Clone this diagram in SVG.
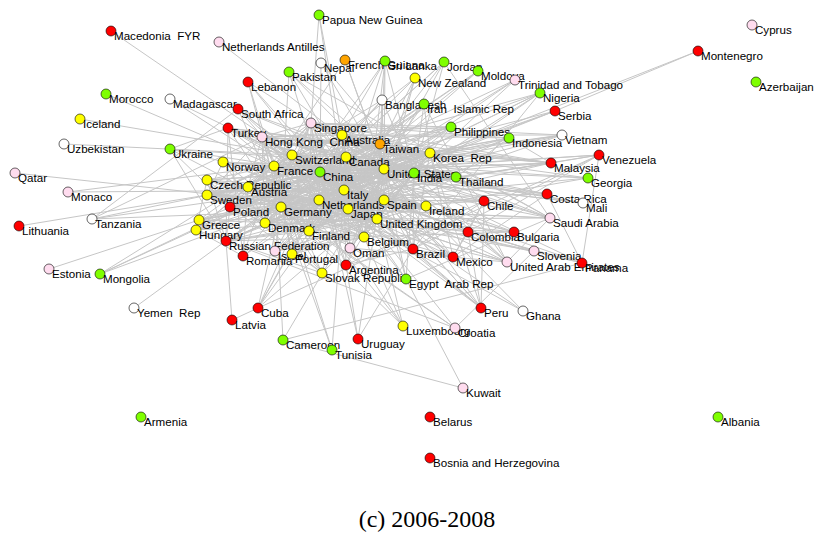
<svg xmlns="http://www.w3.org/2000/svg" width="814" height="534" viewBox="0 0 814 534" xml:space="preserve">
<style>
#edges path{stroke:#c6c6c6;stroke-width:1;fill:none}
circle{stroke:#000;stroke-width:0.6}
.r{fill:#ff0000}.g{fill:#7fff00}.y{fill:#ffff00}.p{fill:#ffdcef}.o{fill:#ffa500}.w{fill:#ffffff}
text{font-family:"Liberation Sans",Arial,sans-serif;font-size:11.6px;fill:#000;white-space:pre}
text.cap{font-family:"Liberation Serif","DejaVu Serif",serif;font-size:24px}
</style>
<rect width="814" height="534" fill="#fff"/>
<g id="edges">
<path d="M384 169L320 172"/><path d="M384 169L348 209"/><path d="M384 169L281 207"/><path d="M384 169L377 219"/><path d="M384 169L274 166"/><path d="M384 169L344 190"/><path d="M384 169L319 200"/><path d="M384 169L384 200"/><path d="M384 169L346 157"/><path d="M384 169L342 135"/><path d="M384 169L430 153"/><path d="M384 169L414 173"/><path d="M384 169L292 155"/><path d="M384 169L364 237"/><path d="M384 169L207 195"/><path d="M384 169L248 187"/><path d="M384 169L265 223"/><path d="M384 169L309 231"/><path d="M384 169L311 123"/><path d="M384 169L262 137"/><path d="M384 169L380 144"/>
<path d="M320 172L348 209"/><path d="M320 172L281 207"/><path d="M320 172L377 219"/><path d="M320 172L274 166"/><path d="M320 172L344 190"/><path d="M320 172L319 200"/><path d="M320 172L384 200"/><path d="M320 172L346 157"/><path d="M320 172L342 135"/><path d="M320 172L430 153"/><path d="M320 172L414 173"/><path d="M320 172L292 155"/><path d="M320 172L364 237"/><path d="M320 172L207 195"/><path d="M320 172L248 187"/><path d="M320 172L265 223"/><path d="M320 172L309 231"/><path d="M320 172L311 123"/><path d="M320 172L262 137"/><path d="M320 172L380 144"/>
<path d="M348 209L281 207"/><path d="M348 209L377 219"/><path d="M348 209L274 166"/><path d="M348 209L344 190"/><path d="M348 209L319 200"/><path d="M348 209L384 200"/><path d="M348 209L346 157"/><path d="M348 209L342 135"/><path d="M348 209L430 153"/><path d="M348 209L414 173"/><path d="M348 209L292 155"/><path d="M348 209L364 237"/><path d="M348 209L207 195"/><path d="M348 209L248 187"/><path d="M348 209L265 223"/><path d="M348 209L309 231"/><path d="M348 209L311 123"/><path d="M348 209L262 137"/><path d="M348 209L380 144"/>
<path d="M281 207L377 219"/><path d="M281 207L274 166"/><path d="M281 207L344 190"/><path d="M281 207L319 200"/><path d="M281 207L384 200"/><path d="M281 207L346 157"/><path d="M281 207L342 135"/><path d="M281 207L430 153"/><path d="M281 207L414 173"/><path d="M281 207L292 155"/><path d="M281 207L364 237"/><path d="M281 207L207 195"/><path d="M281 207L248 187"/><path d="M281 207L265 223"/><path d="M281 207L309 231"/><path d="M281 207L311 123"/><path d="M281 207L262 137"/><path d="M281 207L380 144"/>
<path d="M377 219L274 166"/><path d="M377 219L344 190"/><path d="M377 219L319 200"/><path d="M377 219L384 200"/><path d="M377 219L346 157"/><path d="M377 219L342 135"/><path d="M377 219L430 153"/><path d="M377 219L414 173"/><path d="M377 219L292 155"/><path d="M377 219L364 237"/><path d="M377 219L207 195"/><path d="M377 219L248 187"/><path d="M377 219L265 223"/><path d="M377 219L309 231"/><path d="M377 219L311 123"/><path d="M377 219L262 137"/><path d="M377 219L380 144"/>
<path d="M274 166L344 190"/><path d="M274 166L319 200"/><path d="M274 166L384 200"/><path d="M274 166L346 157"/><path d="M274 166L342 135"/><path d="M274 166L430 153"/><path d="M274 166L414 173"/><path d="M274 166L292 155"/><path d="M274 166L364 237"/><path d="M274 166L207 195"/><path d="M274 166L248 187"/><path d="M274 166L265 223"/><path d="M274 166L309 231"/><path d="M274 166L311 123"/><path d="M274 166L262 137"/><path d="M274 166L380 144"/>
<path d="M344 190L319 200"/><path d="M344 190L384 200"/><path d="M344 190L346 157"/><path d="M344 190L342 135"/><path d="M344 190L430 153"/><path d="M344 190L414 173"/><path d="M344 190L292 155"/><path d="M344 190L364 237"/><path d="M344 190L207 195"/><path d="M344 190L248 187"/><path d="M344 190L265 223"/><path d="M344 190L309 231"/><path d="M344 190L311 123"/><path d="M344 190L262 137"/><path d="M344 190L380 144"/>
<path d="M319 200L384 200"/><path d="M319 200L346 157"/><path d="M319 200L342 135"/><path d="M319 200L430 153"/><path d="M319 200L414 173"/><path d="M319 200L292 155"/><path d="M319 200L364 237"/><path d="M319 200L207 195"/><path d="M319 200L248 187"/><path d="M319 200L265 223"/><path d="M319 200L309 231"/><path d="M319 200L311 123"/><path d="M319 200L262 137"/><path d="M319 200L380 144"/>
<path d="M384 200L346 157"/><path d="M384 200L342 135"/><path d="M384 200L430 153"/><path d="M384 200L414 173"/><path d="M384 200L292 155"/><path d="M384 200L364 237"/><path d="M384 200L207 195"/><path d="M384 200L248 187"/><path d="M384 200L265 223"/><path d="M384 200L309 231"/><path d="M384 200L311 123"/><path d="M384 200L262 137"/><path d="M384 200L380 144"/>
<path d="M346 157L342 135"/><path d="M346 157L430 153"/><path d="M346 157L414 173"/><path d="M346 157L292 155"/><path d="M346 157L364 237"/><path d="M346 157L207 195"/><path d="M346 157L248 187"/><path d="M346 157L265 223"/><path d="M346 157L309 231"/><path d="M346 157L311 123"/><path d="M346 157L262 137"/><path d="M346 157L380 144"/>
<path d="M342 135L430 153"/><path d="M342 135L414 173"/><path d="M342 135L292 155"/><path d="M342 135L364 237"/><path d="M342 135L207 195"/><path d="M342 135L248 187"/><path d="M342 135L265 223"/><path d="M342 135L309 231"/><path d="M342 135L311 123"/><path d="M342 135L262 137"/><path d="M342 135L380 144"/>
<path d="M430 153L414 173"/><path d="M430 153L292 155"/><path d="M430 153L364 237"/><path d="M430 153L207 195"/><path d="M430 153L248 187"/><path d="M430 153L265 223"/><path d="M430 153L309 231"/><path d="M430 153L311 123"/><path d="M430 153L262 137"/><path d="M430 153L380 144"/>
<path d="M414 173L292 155"/><path d="M414 173L364 237"/><path d="M414 173L207 195"/><path d="M414 173L248 187"/><path d="M414 173L265 223"/><path d="M414 173L309 231"/><path d="M414 173L311 123"/><path d="M414 173L262 137"/><path d="M414 173L380 144"/>
<path d="M292 155L364 237"/><path d="M292 155L207 195"/><path d="M292 155L248 187"/><path d="M292 155L265 223"/><path d="M292 155L309 231"/><path d="M292 155L311 123"/><path d="M292 155L262 137"/><path d="M292 155L380 144"/>
<path d="M364 237L207 195"/><path d="M364 237L248 187"/><path d="M364 237L265 223"/><path d="M364 237L309 231"/><path d="M364 237L311 123"/><path d="M364 237L262 137"/><path d="M364 237L380 144"/>
<path d="M207 195L248 187"/><path d="M207 195L265 223"/><path d="M207 195L309 231"/><path d="M207 195L311 123"/><path d="M207 195L262 137"/><path d="M207 195L380 144"/>
<path d="M248 187L265 223"/><path d="M248 187L309 231"/><path d="M248 187L311 123"/><path d="M248 187L262 137"/><path d="M248 187L380 144"/>
<path d="M265 223L309 231"/><path d="M265 223L311 123"/><path d="M265 223L262 137"/><path d="M265 223L380 144"/>
<path d="M309 231L311 123"/><path d="M309 231L262 137"/><path d="M309 231L380 144"/>
<path d="M311 123L262 137"/><path d="M311 123L380 144"/><path d="M262 137L380 144"/>
<path d="M207 180L384 169"/><path d="M207 180L320 172"/><path d="M207 180L281 207"/><path d="M207 180L377 219"/><path d="M207 180L274 166"/><path d="M207 180L344 190"/><path d="M207 180L319 200"/><path d="M207 180L230 207"/><path d="M207 180L196 230"/><path d="M207 180L322 273"/><path d="M207 180L226 241"/><path d="M207 180L248 187"/>
<path d="M230 207L384 169"/><path d="M230 207L320 172"/><path d="M230 207L281 207"/><path d="M230 207L377 219"/><path d="M230 207L274 166"/><path d="M230 207L344 190"/><path d="M230 207L319 200"/><path d="M230 207L226 241"/><path d="M230 207L207 195"/><path d="M230 207L265 223"/><path d="M230 207L430 153"/>
<path d="M426 206L384 169"/><path d="M426 206L377 219"/><path d="M426 206L281 207"/><path d="M426 206L274 166"/><path d="M426 206L348 209"/><path d="M426 206L319 200"/><path d="M426 206L364 237"/><path d="M426 206L384 200"/><path d="M426 206L344 190"/><path d="M426 206L320 172"/><path d="M426 206L292 155"/>
<path d="M226 241L384 169"/><path d="M226 241L320 172"/><path d="M226 241L348 209"/><path d="M226 241L281 207"/><path d="M226 241L377 219"/><path d="M226 241L344 190"/><path d="M226 241L319 200"/><path d="M226 241L309 231"/><path d="M226 241L430 153"/><path d="M226 241L228 128"/><path d="M226 241L170 149"/>
<path d="M456 177L384 169"/><path d="M456 177L320 172"/><path d="M456 177L348 209"/><path d="M456 177L430 153"/><path d="M456 177L311 123"/><path d="M456 177L262 137"/><path d="M456 177L342 135"/><path d="M456 177L551 163"/><path d="M456 177L509 138"/><path d="M456 177L377 219"/><path d="M456 177L281 207"/>
<path d="M223 162L384 169"/><path d="M223 162L377 219"/><path d="M223 162L281 207"/><path d="M223 162L207 195"/><path d="M223 162L265 223"/><path d="M223 162L319 200"/><path d="M223 162L274 166"/><path d="M223 162L320 172"/>
<path d="M199 220L281 207"/><path d="M199 220L344 190"/><path d="M199 220L377 219"/><path d="M199 220L274 166"/><path d="M199 220L319 200"/><path d="M199 220L320 172"/><path d="M199 220L384 169"/>
<path d="M196 230L281 207"/><path d="M196 230L248 187"/><path d="M196 230L384 169"/><path d="M196 230L320 172"/><path d="M196 230L344 190"/><path d="M196 230L274 166"/><path d="M196 230L377 219"/>
<path d="M292 254L384 200"/><path d="M292 254L281 207"/><path d="M292 254L274 166"/><path d="M292 254L377 219"/><path d="M292 254L384 169"/><path d="M292 254L319 200"/><path d="M292 254L344 190"/><path d="M292 254L364 237"/>
<path d="M275 251L384 169"/><path d="M275 251L377 219"/><path d="M275 251L281 207"/><path d="M275 251L364 237"/><path d="M275 251L319 200"/><path d="M275 251L344 190"/><path d="M275 251L320 172"/><path d="M275 251L414 173"/><path d="M275 251L262 137"/>
<path d="M228 128L281 207"/><path d="M228 128L344 190"/><path d="M228 128L377 219"/><path d="M228 128L274 166"/><path d="M228 128L384 169"/><path d="M228 128L320 172"/><path d="M228 128L384 200"/><path d="M228 128L430 153"/>
<path d="M238 109L384 169"/><path d="M238 109L320 172"/><path d="M238 109L348 209"/><path d="M238 109L281 207"/><path d="M238 109L377 219"/><path d="M238 109L414 173"/><path d="M238 109L319 200"/>
<path d="M248 82L274 166"/><path d="M248 82L344 190"/><path d="M248 82L320 172"/><path d="M248 82L384 169"/><path d="M248 82L281 207"/>
<path d="M289 72L320 172"/><path d="M289 72L384 169"/><path d="M289 72L377 219"/><path d="M289 72L281 207"/><path d="M289 72L507 262"/><path d="M289 72L550 218"/>
<path d="M350 248L414 173"/><path d="M350 248L384 169"/><path d="M350 248L348 209"/><path d="M350 248L320 172"/><path d="M350 248L430 153"/><path d="M350 248L507 262"/>
<path d="M413 249L384 169"/><path d="M413 249L320 172"/><path d="M413 249L348 209"/><path d="M413 249L281 207"/><path d="M413 249L344 190"/><path d="M413 249L319 200"/><path d="M413 249L384 200"/><path d="M413 249L346 265"/><path d="M413 249L430 153"/><path d="M413 249L484 201"/><path d="M413 249L453 257"/><path d="M413 249L414 173"/>
<path d="M453 257L384 169"/><path d="M453 257L320 172"/><path d="M453 257L348 209"/><path d="M453 257L281 207"/><path d="M453 257L346 157"/><path d="M453 257L430 153"/><path d="M453 257L384 200"/><path d="M453 257L468 232"/><path d="M453 257L484 201"/>
<path d="M346 265L384 169"/><path d="M346 265L320 172"/><path d="M346 265L384 200"/><path d="M346 265L281 207"/><path d="M346 265L344 190"/><path d="M346 265L484 201"/><path d="M346 265L319 200"/>
<path d="M322 273L281 207"/><path d="M322 273L248 187"/><path d="M322 273L196 230"/><path d="M322 273L230 207"/><path d="M322 273L344 190"/><path d="M322 273L274 166"/><path d="M322 273L377 219"/>
<path d="M406 279L384 169"/><path d="M406 279L344 190"/><path d="M406 279L384 200"/><path d="M406 279L281 207"/><path d="M406 279L414 173"/><path d="M406 279L320 172"/><path d="M406 279L550 218"/>
<path d="M484 201L384 169"/><path d="M484 201L320 172"/><path d="M484 201L348 209"/><path d="M484 201L430 153"/><path d="M484 201L481 308"/><path d="M484 201L468 232"/><path d="M484 201L319 200"/><path d="M484 201L384 200"/><path d="M484 201L344 190"/>
<path d="M468 232L384 169"/><path d="M468 232L599 155"/><path d="M468 232L481 308"/><path d="M468 232L320 172"/><path d="M468 232L384 200"/><path d="M468 232L281 207"/>
<path d="M514 232L281 207"/><path d="M514 232L344 190"/><path d="M514 232L228 128"/><path d="M514 232L226 241"/><path d="M514 232L199 220"/><path d="M514 232L274 166"/>
<path d="M550 218L384 169"/><path d="M550 218L320 172"/><path d="M550 218L348 209"/><path d="M550 218L430 153"/><path d="M550 218L414 173"/><path d="M550 218L377 219"/><path d="M550 218L281 207"/><path d="M550 218L311 123"/>
<path d="M534 251L281 207"/><path d="M534 251L344 190"/><path d="M534 251L248 187"/><path d="M534 251L274 166"/><path d="M534 251L455 328"/>
<path d="M507 262L414 173"/><path d="M507 262L348 209"/><path d="M507 262L384 169"/><path d="M507 262L320 172"/><path d="M507 262L377 219"/><path d="M507 262L281 207"/><path d="M507 262L430 153"/><path d="M507 262L550 218"/>
<path d="M551 163L311 123"/><path d="M551 163L320 172"/><path d="M551 163L348 209"/><path d="M551 163L384 169"/><path d="M551 163L509 138"/><path d="M551 163L430 153"/><path d="M551 163L262 137"/><path d="M551 163L380 144"/><path d="M551 163L414 173"/><path d="M551 163L342 135"/><path d="M551 163L319 200"/>
<path d="M509 138L348 209"/><path d="M509 138L311 123"/><path d="M509 138L320 172"/><path d="M509 138L384 169"/><path d="M509 138L430 153"/><path d="M509 138L414 173"/><path d="M509 138L342 135"/>
<path d="M451 127L384 169"/><path d="M451 127L348 209"/><path d="M451 127L320 172"/><path d="M451 127L262 137"/><path d="M451 127L311 123"/><path d="M451 127L430 153"/><path d="M451 127L380 144"/><path d="M451 127L319 200"/>
<path d="M562 135L384 169"/><path d="M562 135L348 209"/><path d="M562 135L320 172"/><path d="M562 135L430 153"/><path d="M562 135L311 123"/><path d="M562 135L342 135"/><path d="M562 135L281 207"/>
<path d="M599 155L384 169"/><path d="M599 155L320 172"/><path d="M599 155L413 249"/><path d="M599 155L582 263"/><path d="M599 155L319 200"/><path d="M599 155L551 163"/>
<path d="M588 178L228 128"/><path d="M588 178L226 241"/><path d="M588 178L384 169"/><path d="M588 178L281 207"/><path d="M588 178L170 149"/>
<path d="M547 194L384 169"/><path d="M547 194L453 257"/><path d="M547 194L319 200"/><path d="M547 194L320 172"/><path d="M547 194L582 263"/><path d="M547 194L262 137"/>
<path d="M583 203L274 166"/><path d="M583 203L320 172"/><path d="M583 203L292 155"/><path d="M583 203L414 173"/>
<path d="M582 263L384 169"/><path d="M582 263L468 232"/><path d="M582 263L320 172"/><path d="M582 263L348 209"/>
<path d="M481 308L384 169"/><path d="M481 308L320 172"/><path d="M481 308L292 155"/><path d="M481 308L346 157"/><path d="M481 308L348 209"/><path d="M481 308L413 249"/><path d="M481 308L430 153"/><path d="M481 308L384 200"/>
<path d="M523 311L384 169"/><path d="M523 311L319 200"/><path d="M523 311L320 172"/>
<path d="M455 328L344 190"/><path d="M455 328L281 207"/><path d="M455 328L248 187"/><path d="M455 328L226 241"/>
<path d="M403 326L281 207"/><path d="M403 326L274 166"/><path d="M403 326L364 237"/><path d="M403 326L319 200"/><path d="M403 326L377 219"/>
<path d="M358 339L346 265"/><path d="M358 339L413 249"/><path d="M358 339L320 172"/><path d="M358 339L384 169"/>
<path d="M332 350L344 190"/><path d="M332 350L274 166"/><path d="M332 350L281 207"/>
<path d="M283 340L384 169"/><path d="M283 340L463 388"/><path d="M283 340L582 263"/><path d="M283 340L274 166"/>
<path d="M258 308L384 200"/><path d="M258 308L319 200"/><path d="M258 308L320 172"/><path d="M258 308L346 157"/><path d="M258 308L281 207"/><path d="M258 308L344 190"/><path d="M258 308L599 155"/>
<path d="M232 320L226 241"/><path d="M232 320L258 308"/><path d="M463 388L406 279"/>
<path d="M170 99L274 166"/><path d="M170 99L320 172"/><path d="M106 94L274 166"/><path d="M80 119L292 155"/><path d="M64 144L292 155"/><path d="M15 173L348 209"/>
<path d="M68 192L344 190"/><path d="M68 192L274 166"/>
<path d="M92 219L414 173"/><path d="M92 219L320 172"/><path d="M92 219L348 209"/><path d="M92 219L262 137"/><path d="M92 219L238 109"/>
<path d="M19 226L207 195"/><path d="M49 269L199 220"/>
<path d="M100 274L320 172"/><path d="M100 274L346 157"/><path d="M100 274L430 153"/><path d="M100 274L292 155"/>
<path d="M134 308L320 172"/><path d="M111 31L292 155"/><path d="M219 42L384 169"/>
<path d="M698 51L344 190"/><path d="M698 51L555 111"/>
<path d="M555 111L281 207"/><path d="M555 111L344 190"/><path d="M555 111L226 241"/><path d="M555 111L320 172"/>
<path d="M540 93L384 169"/><path d="M540 93L414 173"/><path d="M540 93L320 172"/><path d="M540 93L319 200"/><path d="M540 93L384 200"/><path d="M540 93L274 166"/><path d="M540 93L413 249"/>
<path d="M515 80L384 169"/><path d="M515 80L384 200"/><path d="M515 80L319 200"/><path d="M515 80L320 172"/>
<path d="M478 71L226 241"/><path d="M478 71L344 190"/><path d="M478 71L243 256"/><path d="M478 71L281 207"/>
<path d="M444 62L384 169"/><path d="M444 62L414 173"/><path d="M444 62L320 172"/><path d="M444 62L281 207"/><path d="M444 62L344 190"/><path d="M444 62L550 218"/>
<path d="M385 61L414 173"/><path d="M385 61L384 169"/><path d="M385 61L377 219"/><path d="M385 61L281 207"/><path d="M385 61L344 190"/><path d="M385 61L364 237"/><path d="M385 61L320 172"/>
<path d="M345 60L274 166"/><path d="M345 60L384 169"/><path d="M345 60L413 249"/>
<path d="M321 63L414 173"/><path d="M321 63L320 172"/><path d="M321 63L384 169"/>
<path d="M319 15L342 135"/><path d="M319 15L348 209"/><path d="M319 15L311 123"/>
<path d="M424 104L320 172"/><path d="M424 104L348 209"/><path d="M424 104L414 173"/><path d="M424 104L430 153"/><path d="M424 104L281 207"/><path d="M424 104L344 190"/><path d="M424 104L507 262"/>
<path d="M382 100L384 169"/><path d="M382 100L281 207"/><path d="M382 100L377 219"/><path d="M382 100L320 172"/><path d="M382 100L414 173"/><path d="M382 100L274 166"/>
<path d="M415 78L342 135"/><path d="M415 78L384 169"/><path d="M415 78L348 209"/><path d="M415 78L320 172"/><path d="M415 78L377 219"/>
<path d="M170 149L281 207"/><path d="M170 149L344 190"/><path d="M170 149L228 128"/><path d="M170 149L320 172"/><path d="M170 149L230 207"/>
<path d="M243 256L281 207"/><path d="M243 256L344 190"/><path d="M243 256L274 166"/><path d="M243 256L228 128"/><path d="M243 256L196 230"/><path d="M243 256L248 187"/>
</g>
<g id="n-macedonia"><circle class="r" cx="111" cy="31" r="5"/><text x="114" y="39.5">Macedonia  FYR</text></g>
<g id="n-netherlands-antilles"><circle class="p" cx="219" cy="42" r="5"/><text x="222" y="50.5">Netherlands Antilles</text></g>
<g id="n-papua-new-guinea"><circle class="g" cx="319" cy="15" r="5"/><text x="322" y="23.5">Papua New Guinea</text></g>
<g id="n-nepal"><circle class="w" cx="321" cy="63" r="5"/><text x="324" y="71.5">Nepal</text></g>
<g id="n-french-guiana"><circle class="o" cx="345" cy="60" r="5"/><text x="348" y="68.5">French Guiana</text></g>
<g id="n-sri-lanka"><circle class="g" cx="385" cy="61" r="5"/><text x="388" y="69.5">Sri Lanka</text></g>
<g id="n-jordan"><circle class="g" cx="444" cy="62" r="5"/><text x="447" y="70.5">Jordan</text></g>
<g id="n-moldova"><circle class="g" cx="478" cy="71" r="5"/><text x="481" y="79.5">Moldova</text></g>
<g id="n-trinidad"><circle class="p" cx="515" cy="80" r="5"/><text x="518" y="88.5">Trinidad and Tobago</text></g>
<g id="n-pakistan"><circle class="g" cx="289" cy="72" r="5"/><text x="292" y="80.5">Pakistan</text></g>
<g id="n-new-zealand"><circle class="y" cx="415" cy="78" r="5"/><text x="418" y="86.5">New Zealand</text></g>
<g id="n-lebanon"><circle class="r" cx="248" cy="82" r="5"/><text x="251" y="90.5">Lebanon</text></g>
<g id="n-morocco"><circle class="g" cx="106" cy="94" r="5"/><text x="109" y="102.5">Morocco</text></g>
<g id="n-madagascar"><circle class="w" cx="170" cy="99" r="5"/><text x="173" y="107.5">Madagascar</text></g>
<g id="n-south-africa"><circle class="r" cx="238" cy="109" r="5"/><text x="241" y="117.5">South Africa</text></g>
<g id="n-bangladesh"><circle class="w" cx="382" cy="100" r="5"/><text x="385" y="108.5">Bangladesh</text></g>
<g id="n-iran"><circle class="g" cx="424" cy="104" r="5"/><text x="427" y="112.5">Iran  Islamic Rep</text></g>
<g id="n-nigeria"><circle class="g" cx="540" cy="93" r="5"/><text x="543" y="101.5">Nigeria</text></g>
<g id="n-serbia"><circle class="r" cx="555" cy="111" r="5"/><text x="558" y="119.5">Serbia</text></g>
<g id="n-montenegro"><circle class="r" cx="698" cy="51" r="5"/><text x="701" y="59.5">Montenegro</text></g>
<g id="n-cyprus"><circle class="p" cx="752" cy="25" r="5"/><text x="755" y="33.5">Cyprus</text></g>
<g id="n-azerbaijan"><circle class="g" cx="756" cy="82" r="5"/><text x="759" y="90.5">Azerbaijan</text></g>
<g id="n-iceland"><circle class="y" cx="80" cy="119" r="5"/><text x="83" y="127.5">Iceland</text></g>
<g id="n-turkey"><circle class="r" cx="228" cy="128" r="5"/><text x="231" y="136.5">Turkey</text></g>
<g id="n-hong-kong"><circle class="p" cx="262" cy="137" r="5"/><text x="265" y="145.5">Hong Kong  China</text></g>
<g id="n-singapore"><circle class="p" cx="311" cy="123" r="5"/><text x="314" y="131.5">Singapore</text></g>
<g id="n-philippines"><circle class="g" cx="451" cy="127" r="5"/><text x="454" y="135.5">Philippines</text></g>
<g id="n-indonesia"><circle class="g" cx="509" cy="138" r="5"/><text x="512" y="146.5">Indonesia</text></g>
<g id="n-vietnam"><circle class="w" cx="562" cy="135" r="5"/><text x="565" y="143.5">Vietnam</text></g>
<g id="n-uzbekistan"><circle class="w" cx="64" cy="144" r="5"/><text x="67" y="152.5">Uzbekistan</text></g>
<g id="n-ukraine"><circle class="g" cx="170" cy="149" r="5"/><text x="173" y="157.5">Ukraine</text></g>
<g id="n-australia"><circle class="y" cx="342" cy="135" r="5"/><text x="345" y="143.5">Australia</text></g>
<g id="n-taiwan"><circle class="o" cx="380" cy="144" r="5"/><text x="383" y="152.5">Taiwan</text></g>
<g id="n-korea"><circle class="y" cx="430" cy="153" r="5"/><text x="433" y="161.5">Korea  Rep</text></g>
<g id="n-switzerland"><circle class="y" cx="292" cy="155" r="5"/><text x="295" y="163.5">Switzerland</text></g>
<g id="n-canada"><circle class="y" cx="346" cy="157" r="5"/><text x="349" y="165.5">Canada</text></g>
<g id="n-norway"><circle class="y" cx="223" cy="162" r="5"/><text x="226" y="170.5">Norway</text></g>
<g id="n-france"><circle class="y" cx="274" cy="166" r="5"/><text x="277" y="174.5">France</text></g>
<g id="n-china"><circle class="g" cx="320" cy="172" r="5"/><text x="323" y="180.5">China</text></g>
<g id="n-united-states"><circle class="y" cx="384" cy="169" r="5"/><text x="387" y="177.5">United States</text></g>
<g id="n-india"><circle class="g" cx="414" cy="173" r="5"/><text x="417" y="181.5">India</text></g>
<g id="n-thailand"><circle class="g" cx="456" cy="177" r="5"/><text x="459" y="185.5">Thailand</text></g>
<g id="n-malaysia"><circle class="r" cx="551" cy="163" r="5"/><text x="554" y="171.5">Malaysia</text></g>
<g id="n-venezuela"><circle class="r" cx="599" cy="155" r="5"/><text x="602" y="163.5">Venezuela</text></g>
<g id="n-georgia"><circle class="g" cx="588" cy="178" r="5"/><text x="591" y="186.5">Georgia</text></g>
<g id="n-qatar"><circle class="p" cx="15" cy="173" r="5"/><text x="18" y="181.5">Qatar</text></g>
<g id="n-czech"><circle class="y" cx="207" cy="180" r="5"/><text x="210" y="188.5">Czech Republic</text></g>
<g id="n-austria"><circle class="y" cx="248" cy="187" r="5"/><text x="251" y="195.5">Austria</text></g>
<g id="n-italy"><circle class="y" cx="344" cy="190" r="5"/><text x="347" y="198.5">Italy</text></g>
<g id="n-monaco"><circle class="p" cx="68" cy="192" r="5"/><text x="71" y="200.5">Monaco</text></g>
<g id="n-sweden"><circle class="y" cx="207" cy="195" r="5"/><text x="210" y="203.5">Sweden</text></g>
<g id="n-netherlands"><circle class="y" cx="319" cy="200" r="5"/><text x="322" y="208.5">Netherlands</text></g>
<g id="n-spain"><circle class="y" cx="384" cy="200" r="5"/><text x="387" y="208.5">Spain</text></g>
<g id="n-chile"><circle class="r" cx="484" cy="201" r="5"/><text x="487" y="209.5">Chile</text></g>
<g id="n-costa-rica"><circle class="r" cx="547" cy="194" r="5"/><text x="550" y="202.5">Costa Rica</text></g>
<g id="n-mali"><circle class="w" cx="583" cy="203" r="5"/><text x="586" y="211.5">Mali</text></g>
<g id="n-germany"><circle class="y" cx="281" cy="207" r="5"/><text x="284" y="215.5">Germany</text></g>
<g id="n-japan"><circle class="y" cx="348" cy="209" r="5"/><text x="351" y="217.5">Japan</text></g>
<g id="n-ireland"><circle class="y" cx="426" cy="206" r="5"/><text x="429" y="214.5">Ireland</text></g>
<g id="n-poland"><circle class="r" cx="230" cy="207" r="5"/><text x="233" y="215.5">Poland</text></g>
<g id="n-tanzania"><circle class="w" cx="92" cy="219" r="5"/><text x="95" y="227.5">Tanzania</text></g>
<g id="n-united-kingdom"><circle class="y" cx="377" cy="219" r="5"/><text x="380" y="227.5">United Kingdom</text></g>
<g id="n-saudi-arabia"><circle class="p" cx="550" cy="218" r="5"/><text x="553" y="226.5">Saudi Arabia</text></g>
<g id="n-lithuania"><circle class="r" cx="19" cy="226" r="5"/><text x="22" y="234.5">Lithuania</text></g>
<g id="n-greece"><circle class="y" cx="199" cy="220" r="5"/><text x="202" y="228.5">Greece</text></g>
<g id="n-hungary"><circle class="y" cx="196" cy="230" r="5"/><text x="199" y="238.5">Hungary</text></g>
<g id="n-denmark"><circle class="y" cx="265" cy="223" r="5"/><text x="268" y="231.5">Denmark</text></g>
<g id="n-finland"><circle class="y" cx="309" cy="231" r="5"/><text x="312" y="239.5">Finland</text></g>
<g id="n-colombia"><circle class="r" cx="468" cy="232" r="5"/><text x="471" y="240.5">Colombia</text></g>
<g id="n-bulgaria"><circle class="r" cx="514" cy="232" r="5"/><text x="517" y="240.5">Bulgaria</text></g>
<g id="n-belgium"><circle class="y" cx="364" cy="237" r="5"/><text x="367" y="245.5">Belgium</text></g>
<g id="n-russia"><circle class="r" cx="226" cy="241" r="5"/><text x="229" y="249.5">Russian Federation</text></g>
<g id="n-oman"><circle class="p" cx="350" cy="248" r="5"/><text x="353" y="256.5">Oman</text></g>
<g id="n-slovenia"><circle class="p" cx="534" cy="251" r="5"/><text x="537" y="259.5">Slovenia</text></g>
<g id="n-brazil"><circle class="r" cx="413" cy="249" r="5"/><text x="416" y="257.5">Brazil</text></g>
<g id="n-israel"><circle class="p" cx="275" cy="251" r="5"/><text x="278" y="259.5">Israel</text></g>
<g id="n-portugal"><circle class="y" cx="292" cy="254" r="5"/><text x="295" y="262.5">Portugal</text></g>
<g id="n-romania"><circle class="r" cx="243" cy="256" r="5"/><text x="246" y="264.5">Romania</text></g>
<g id="n-mexico"><circle class="r" cx="453" cy="257" r="5"/><text x="456" y="265.5">Mexico</text></g>
<g id="n-uae"><circle class="p" cx="507" cy="262" r="5"/><text x="510" y="270.5">United Arab Emirates</text></g>
<g id="n-panama"><circle class="r" cx="582" cy="263" r="5"/><text x="585" y="271.5">Panama</text></g>
<g id="n-estonia"><circle class="p" cx="49" cy="269" r="5"/><text x="52" y="277.5">Estonia</text></g>
<g id="n-mongolia"><circle class="g" cx="100" cy="274" r="5"/><text x="103" y="282.5">Mongolia</text></g>
<g id="n-argentina"><circle class="r" cx="346" cy="265" r="5"/><text x="349" y="273.5">Argentina</text></g>
<g id="n-slovak"><circle class="y" cx="322" cy="273" r="5"/><text x="325" y="281.5">Slovak Republic</text></g>
<g id="n-egypt"><circle class="g" cx="406" cy="279" r="5"/><text x="409" y="287.5">Egypt  Arab Rep</text></g>
<g id="n-yemen"><circle class="w" cx="134" cy="308" r="5"/><text x="137" y="316.5">Yemen  Rep</text></g>
<g id="n-cuba"><circle class="r" cx="258" cy="308" r="5"/><text x="261" y="316.5">Cuba</text></g>
<g id="n-peru"><circle class="r" cx="481" cy="308" r="5"/><text x="484" y="316.5">Peru</text></g>
<g id="n-ghana"><circle class="w" cx="523" cy="311" r="5"/><text x="526" y="319.5">Ghana</text></g>
<g id="n-latvia"><circle class="r" cx="232" cy="320" r="5"/><text x="235" y="328.5">Latvia</text></g>
<g id="n-luxembourg"><circle class="y" cx="403" cy="326" r="5"/><text x="406" y="334.5">Luxembourg</text></g>
<g id="n-croatia"><circle class="p" cx="455" cy="328" r="5"/><text x="458" y="336.5">Croatia</text></g>
<g id="n-cameroon"><circle class="g" cx="283" cy="340" r="5"/><text x="286" y="348.5">Cameroon</text></g>
<g id="n-uruguay"><circle class="r" cx="358" cy="339" r="5"/><text x="361" y="347.5">Uruguay</text></g>
<g id="n-tunisia"><circle class="g" cx="332" cy="350" r="5"/><text x="335" y="358.5">Tunisia</text></g>
<g id="n-kuwait"><circle class="p" cx="463" cy="388" r="5"/><text x="466" y="396.5">Kuwait</text></g>
<g id="n-armenia"><circle class="g" cx="141" cy="417" r="5"/><text x="144" y="425.5">Armenia</text></g>
<g id="n-belarus"><circle class="r" cx="430" cy="417" r="5"/><text x="433" y="425.5">Belarus</text></g>
<g id="n-albania"><circle class="g" cx="718" cy="417" r="5"/><text x="721" y="425.5">Albania</text></g>
<g id="n-bosnia"><circle class="r" cx="430" cy="458" r="5"/><text x="433" y="466.5">Bosnia and Herzegovina</text></g>
<text class="cap" x="427" y="527" text-anchor="middle">(c) 2006-2008</text>
</svg>
